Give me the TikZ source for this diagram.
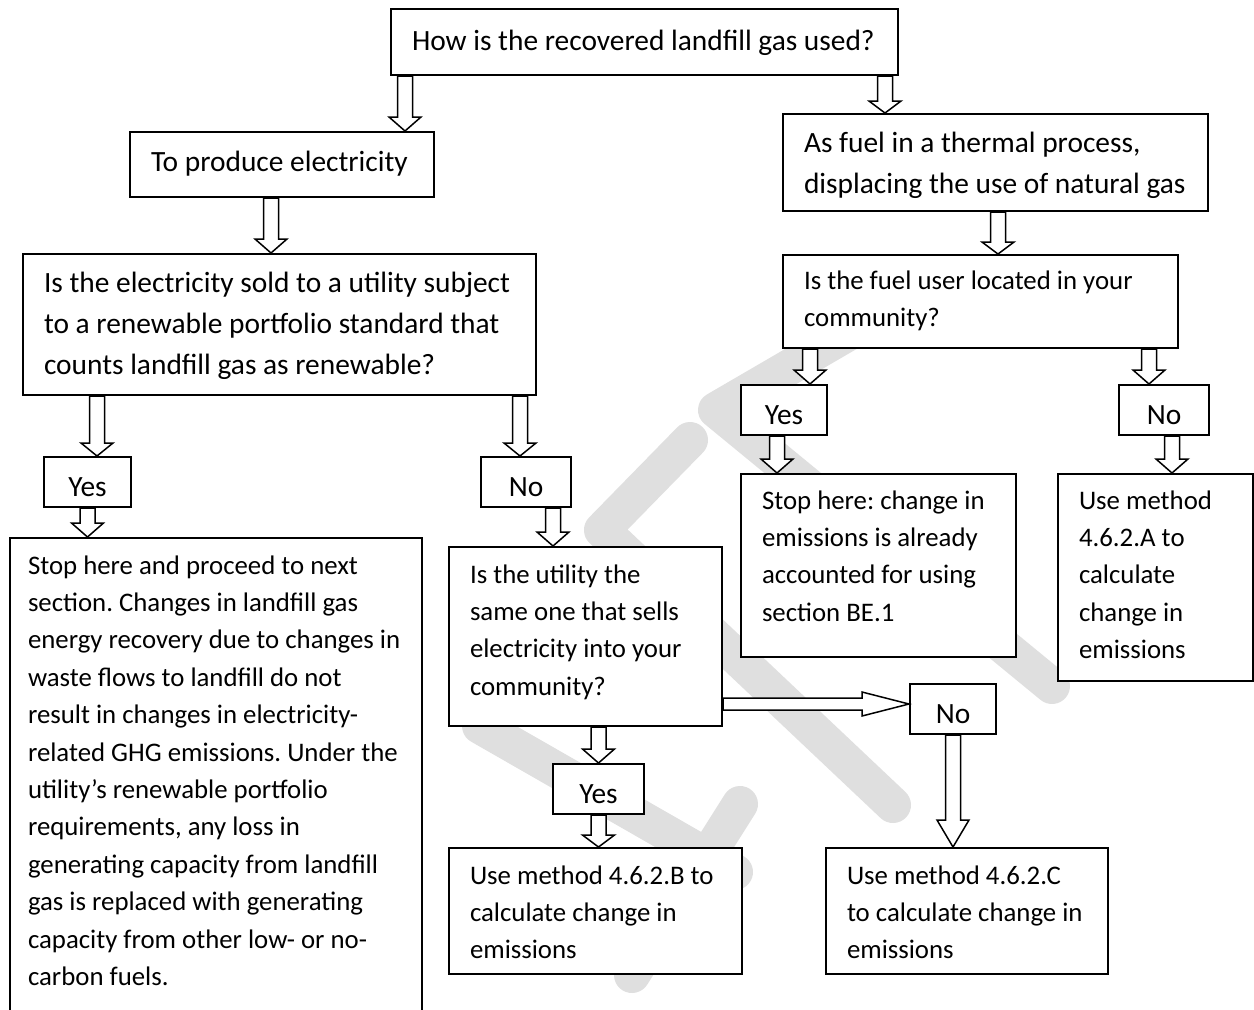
\documentclass[tikz,border=0pt]{standalone}
\usepackage{fontspec}
\setmainfont{Carlito}
\usetikzlibrary{calc}
\definecolor{wasserzeichen}{HTML}{DFDFDF}
\newcommand{\grossschrift}{\fontsize{14.7}{20.5}\selectfont}
\newcommand{\kleinschrift}{\fontsize{13.4}{18.7}\selectfont}
\frenchspacing

% Blockpfeile (hohl), von Knoten zu Knoten
\tikzset{
  pfeil/.style={draw, line width=0.75pt, fill=white,
    to path={let \p1=(\tikztostart), \p2=(\tikztotarget) in
      (\x1-3.75pt,\y1) -- (\x1-3.75pt,\y2+#1) -- (\x1-8pt,\y2+#1) -- (\x1,\y2)
      -- (\x1+8pt,\y2+#1) -- (\x1+3.75pt,\y2+#1) -- (\x1+3.75pt,\y1) -- cycle}},
  pfeil/.default=7pt,
  querpfeil/.style={draw, line width=0.75pt, fill=white,
    to path={let \p1=(\tikztostart), \p2=(\tikztotarget) in
      (\x1,\y1+3pt) -- (\x2-23.5pt,\y1+3pt) -- (\x2-23.5pt,\y1+6pt) -- (\x2,\y1)
      -- (\x2-23.5pt,\y1-6pt) -- (\x2-23.5pt,\y1-3pt) -- (\x1,\y1-3pt) -- cycle}},
}

\begin{document}
\begin{tikzpicture}[
    x=0.5pt, y=-0.5pt,
    box/.style={draw, line width=1pt, fill=white, anchor=north west,
      align=flush left, inner xsep=10.5pt, inner ysep=0pt,
      execute at begin node={\rightskip=0pt plus 1fil minus 20pt\relax}},
    gross/.style={box, font=\grossschrift},
    klein/.style={box, font=\kleinschrift},
    wahl/.style={draw, line width=1pt, fill=white, anchor=north west,
      inner sep=0pt, font=\grossschrift, text height=19.5pt, text depth=5.5pt},
    wzband/.style={draw=wasserzeichen, line width=18pt, line cap=round, line join=round},
  ]
  \useasboundingbox (0,0) rectangle (1254,1009);
  \clip (0,0) rectangle (1254,1009);

  % Wasserzeichen (blass, liegt unter den Kaesten)
  \draw[wzband] (850,332) -- (716,410) -- (1052,686);
  \draw[wzband] (690,440) -- (602,530) -- (893,805);
  \draw[wzband] (480,726) -- (735,872);
  \draw[wzband] (740,804) -- (632,975);

  % obere Ebene
  \node[gross, text width=232.5pt, text height=20.5pt, text depth=12.5pt] (frage) at (390,8)
    {How is the recovered landfill gas used?};
  \node[gross, text width=131pt, text height=19.5pt, text depth=13pt] (strom) at (129,131)
    {To produce electricity};
  \node[gross, text width=191.5pt, text height=19pt, text depth=29.5pt] (brenn) at (782,113)
    {As fuel in a thermal process,\\ displacing the use of natural gas};

  % linker Zweig: Strom
  \node[gross, text width=235.5pt, text height=19pt, text depth=51.5pt] (rps) at (22,253)
    {Is the electricity sold to a utility subject\\ to a renewable portfolio standard that\\
     counts landfill gas as renewable?};
  \node[wahl, minimum width=43.5pt] (ja1) at (43,456) {Yes};
  \node[wahl, minimum width=45pt] (nein1) at (480,456) {No};
  \node[klein, inner xsep=9pt, text width=188pt, text height=18pt, text depth=222pt] (stopp1) at (9,537)
    {Stop here and proceed to next\\ section. Changes in landfill gas\\
     energy recovery due to changes in\\ waste flows to landfill do not\\
     result in changes in electricity-\\ related GHG emissions. Under the\\
     utility’s renewable portfolio\\ requirements, any loss in\\
     generating capacity from landfill\\ gas is replaced with generating\\
     capacity from other low- or no-\\ carbon fuels.};
  \node[klein, text width=115.5pt, text height=18pt, text depth=71.5pt] (versorger) at (448,546)
    {Is the utility the\\ same one that sells\\ electricity into your\\ community?};
  \node[wahl, minimum width=45.5pt] (ja2) at (552,763) {Yes};
  \node[klein, text width=125.5pt, text height=18pt, text depth=45pt] (methB) at (448,847)
    {Use method 4.6.2.B to\\ calculate change in\\ emissions};
  \node[wahl, minimum width=43pt] (nein2) at (909,683) {No};
  \node[klein, text width=120pt, text height=18pt, text depth=45pt] (methC) at (825,847)
    {Use method 4.6.2.C\\ to calculate change in\\ emissions};

  % rechter Zweig: Brennstoff
  \node[klein, text width=176.5pt, text height=17pt, text depth=29.5pt] (nutzer) at (782,254)
    {Is the fuel user located in your\\ community?};
  \node[wahl, minimum width=43pt] (ja3) at (740,384) {Yes};
  \node[wahl, minimum width=45pt] (nein3) at (1118,384) {No};
  \node[klein, text width=116.5pt, text height=17.5pt, text depth=74pt] (stopp2) at (740,473)
    {Stop here: change in\\ emissions is already\\ accounted for using\\ section BE.1};
  \node[klein, text width=76.5pt, text height=17.5pt, text depth=86pt] (methA) at (1057,473)
    {Use method\\ 4.6.2.A to\\ calculate\\ change in\\ emissions};

  % Pfeile
  \draw[pfeil] ($(frage.south west)+(15,0)$) to (strom.north);
  \draw[pfeil=6pt] ($(frage.south east)+(-14,0)$) to (brenn.north);
  \draw[pfeil] ($(strom.south west)+(142,0)$) to (rps.north);
  \draw[pfeil=6pt] ($(brenn.south west)+(216,0)$) to (nutzer.north);
  \draw[pfeil=6.5pt] ($(rps.south west)+(75,0)$) to (ja1.north);
  \draw[pfeil=6.5pt] ($(rps.south east)+(-17,0)$) to (nein1.north);
  \draw[pfeil] (ja1.south) to (stopp1.north);
  \draw[pfeil] ($(nein1.south west)+(73,0)$) to (versorger.north);
  \draw[pfeil] (versorger.south -| ja2.north) to (ja2.north);
  \draw[pfeil=6pt] (ja2.south) to (methB.north);
  \draw[querpfeil] ($(versorger.south east)+(0,-23)$) to (nein2.west);
  \draw[pfeil=13.5pt] (nein2.south) to (methC.north);
  \draw[pfeil] ($(nutzer.south west)+(28,0)$) to (ja3.north);
  \draw[pfeil] ($(nutzer.south east)+(-30,0)$) to (nein3.north);
  \draw[pfeil] ($(ja3.south west)+(37,0)$) to (stopp2.north);
  \draw[pfeil] ($(nein3.south west)+(54,0)$) to (methA.north);
\end{tikzpicture}
\end{document}
